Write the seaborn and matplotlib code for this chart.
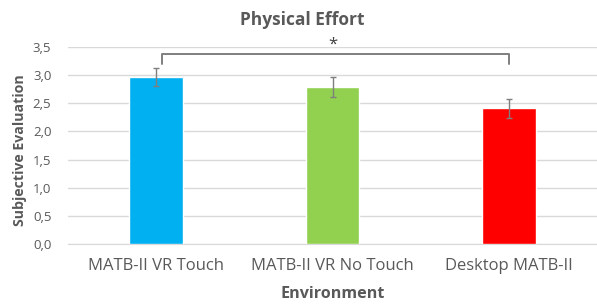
import matplotlib
matplotlib.use("Agg")
import matplotlib.pyplot as plt
import seaborn as sns
import pandas as pd

# Data
environments = ["MATB-II VR Touch", "MATB-II VR No Touch", "Desktop MATB-II"]
scores = [2.96, 2.79, 2.41]
errors = [0.16, 0.17, 0.17]
bar_colors = ["#00B0F0", "#92D050", "#FF0000"]
y_ticks = [0.0, 0.5, 1.0, 1.5, 2.0, 2.5, 3.0, 3.5]

df = pd.DataFrame({"Environment": environments, "Score": scores})

sns.set_style("white")
plt.rcParams["font.family"] = ["Open Sans", "DejaVu Sans"]
text_gray = "#595959"

fig = plt.figure(figsize=(5.97, 3.05), dpi=100)
ax = fig.add_axes([0.114, 0.2, 0.886, 0.646])

sns.barplot(data=df, x="Environment", y="Score", hue="Environment",
            palette=bar_colors, saturation=1, width=0.305, legend=False,
            ax=ax, zorder=3)
ax.errorbar(range(len(environments)), scores, yerr=errors, fmt="none",
            ecolor="#7F7F7F", elinewidth=1, capsize=2.5, capthick=1, zorder=4)

# significance bracket between first and last bar
ax.plot([0.03, 0.03, 2, 2], [3.19, 3.38, 3.38, 3.19], color="#7F7F7F", lw=1.4,
        zorder=4, clip_on=False)
ax.text(1.0, 3.40, "*", ha="center", va="bottom", fontsize=12, color="#404040")

ax.set_ylim(0, 3.5)
ax.set_xlim(-0.5, 2.5)
ax.set_yticks(y_ticks)
ax.set_yticklabels([f"{v:.1f}".replace(".", ",") for v in y_ticks])
ax.grid(axis="y", color="#D9D9D9", lw=1, zorder=0)
ax.set_axisbelow(True)
for s in ["top", "right", "left"]:
    ax.spines[s].set_visible(False)
ax.spines["bottom"].set_color("#D9D9D9")
ax.tick_params(axis="both", length=0, colors=text_gray)
ax.tick_params(axis="y", labelsize=9.5, pad=12)
ax.tick_params(axis="x", labelsize=12, pad=10)
ax.set_xlabel("")
ax.set_ylabel("")

fig.text(0.506, 0.934, "Physical Effort", ha="center", va="center",
         fontsize=12.5, fontweight="bold", color=text_gray)
fig.text(0.557, 0.036, "Environment", ha="center", va="center",
         fontsize=11.6, fontweight="bold", color=text_gray)
fig.text(0.034, 0.508, "Subjective Evaluation", ha="center", va="center",
         rotation=90, fontsize=10.2, fontweight="bold", color=text_gray)

fig.savefig("out.png", dpi=100)
